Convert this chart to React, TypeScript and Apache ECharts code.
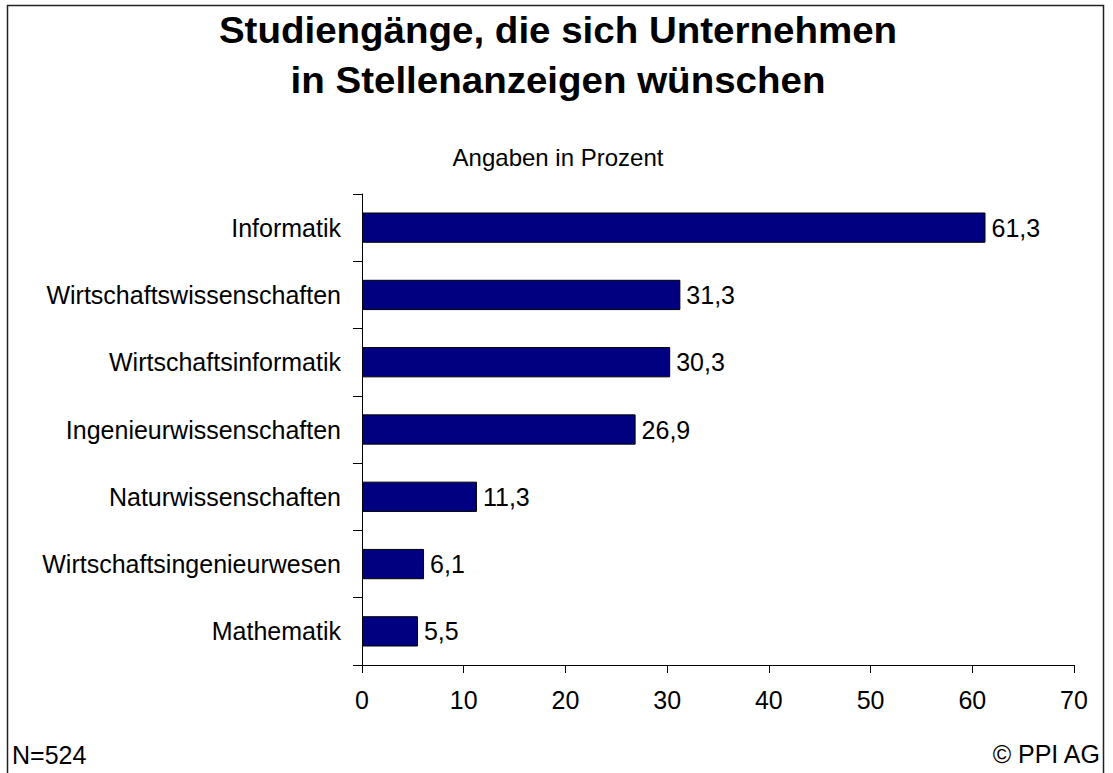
import React, { useEffect, useRef } from "react";
import * as echarts from "echarts";

const categories = [
  "Informatik",
  "Wirtschaftswissenschaften",
  "Wirtschaftsinformatik",
  "Ingenieurwissenschaften",
  "Naturwissenschaften",
  "Wirtschaftsingenieurwesen",
  "Mathematik",
];
const values = [61.3, 31.3, 30.3, 26.9, 11.3, 6.1, 5.5];
const titleLines = ["Studiengänge, die sich Unternehmen", "in Stellenanzeigen wünschen"];
const subtitle = "Angaben in Prozent";
const footLeft = "N=524";
const footRight = "© PPI AG";

const FONT = '"Liberation Sans", Arial, Helvetica, sans-serif';

export default function App() {
  const ref = useRef<HTMLDivElement>(null);
  useEffect(() => {
    document.body.style.margin = "0";
    const chart = echarts.init(ref.current!, null, { renderer: "svg" });
    chart.setOption({
      animation: false,
      backgroundColor: "#ffffff",
      textStyle: { fontFamily: FONT },
      grid: { left: 362, top: 194, width: 712, height: 471, containLabel: false },
      xAxis: {
        type: "value",
        min: 0,
        max: 70,
        interval: 10,
        splitLine: { show: false },
        axisLine: { show: true, lineStyle: { color: "#000", width: 1 } },
        axisTick: { show: true, length: 8, lineStyle: { color: "#000" } },
        axisLabel: { color: "#000", fontSize: 25, fontFamily: FONT, margin: 22 },
      },
      yAxis: {
        type: "category",
        data: categories,
        inverse: true,
        axisLine: { show: true, lineStyle: { color: "#000", width: 1 } },
        axisTick: { show: true, length: 9, lineStyle: { color: "#000" } },
        axisLabel: { color: "#000", fontSize: 25, fontFamily: FONT, margin: 21 },
      },
      series: [
        {
          type: "bar",
          data: values,
          barCategoryGap: "55%",
          itemStyle: { color: "#000080", borderColor: "#000", borderWidth: 1 },
          label: {
            show: true,
            position: "right",
            distance: 6,
            color: "#000",
            fontSize: 25,
            fontFamily: FONT,
            formatter: (p: any) => String(p.value).replace(".", ","),
          },
        },
      ],
      graphic: [
        {
          type: "rect",
          shape: { x: 7.5, y: 5.5, width: 1096, height: 800 },
          style: { fill: "none", stroke: "#222", lineWidth: 1.5 },
          silent: true,
        },
        {
          type: "text",
          x: 558,
          y: 30,
          scaleX: 1.07,
          style: {
            text: titleLines[0],
            font: `bold 36px ${FONT}`,
            fill: "#000",
            align: "center",
            verticalAlign: "middle",
          },
        },
        {
          type: "text",
          x: 558,
          y: 80,
          scaleX: 1.07,
          style: {
            text: titleLines[1],
            font: `bold 36px ${FONT}`,
            fill: "#000",
            align: "center",
            verticalAlign: "middle",
          },
        },
        {
          type: "text",
          x: 558,
          y: 157,
          style: {
            text: subtitle,
            font: `24px ${FONT}`,
            fill: "#000",
            align: "center",
            verticalAlign: "middle",
          },
        },
        {
          type: "text",
          x: 12,
          y: 755,
          style: {
            text: footLeft,
            font: `25px ${FONT}`,
            fill: "#000",
            align: "left",
            verticalAlign: "middle",
          },
        },
        {
          type: "text",
          x: 1100,
          y: 754,
          style: {
            text: footRight,
            font: `25px ${FONT}`,
            fill: "#000",
            align: "right",
            verticalAlign: "middle",
          },
        },
      ],
    });
    return () => chart.dispose();
  }, []);
  return (
    <div
      ref={ref}
      style={{ position: "absolute", left: 0, top: 0, width: 1113, height: 773 }}
    />
  );
}
